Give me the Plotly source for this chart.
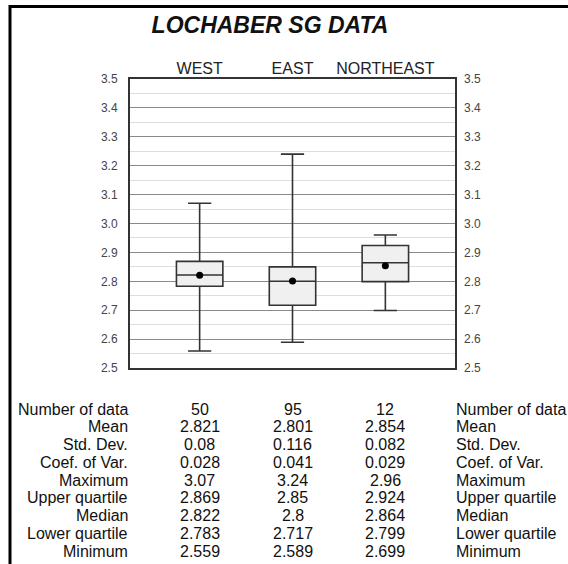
import plotly.graph_objects as go

categories = ["WEST", "EAST", "NORTHEAST"]
n_data = [50, 95, 12]
mean_v = [2.821, 2.801, 2.854]
std_v = [0.08, 0.116, 0.082]
cv_v = [0.028, 0.041, 0.029]
max_v = [3.07, 3.24, 2.96]
q3_v = [2.869, 2.85, 2.924]
median_v = [2.822, 2.8, 2.864]
q1_v = [2.783, 2.717, 2.799]
min_v = [2.559, 2.589, 2.699]

row_labels = ["Number of data", "Mean", "Std. Dev.", "Coef. of Var.", "Maximum",
              "Upper quartile", "Median", "Lower quartile", "Minimum"]
row_values = [n_data, mean_v, std_v, cv_v, max_v, q3_v, median_v, q1_v, min_v]

W, H = 568, 564
ML, MR, MT, MB = 130, 113, 79, 196
PW, PH = W - ML - MR, H - MT - MB

def px_x(px):
    return (px - ML) / PW

def px_y(py):
    return (H - MB - py) / PH

FONT = "Liberation Sans, Arial, sans-serif"

fig = go.Figure()
fig.add_trace(go.Box(
    x=categories, q1=q1_v, median=median_v, q3=q3_v,
    lowerfence=min_v, upperfence=max_v,
    width=0.5, whiskerwidth=0.5,
    fillcolor="#f0f0f0", line=dict(color="#333333", width=1.6),
    boxpoints=False, showlegend=False, hoverinfo="skip",
))
fig.add_trace(go.Scatter(
    x=categories, y=mean_v, mode="markers",
    marker=dict(color="black", size=7), showlegend=False, hoverinfo="skip",
))
fig.add_trace(go.Scatter(
    x=categories, y=mean_v, mode="markers", yaxis="y2",
    marker=dict(color="rgba(0,0,0,0)", size=1), showlegend=False, hoverinfo="skip",
))

annotations = []
for i, (lab, vals) in enumerate(zip(row_labels, row_values)):
    ypos = px_y(409 + i * 17.75)
    annotations.append(dict(text=lab, x=0, xref="paper", y=ypos, yref="paper",
                            xanchor="right", yanchor="middle", xshift=0, showarrow=False,
                            font=dict(size=16, color="#111", family=FONT)))
    annotations.append(dict(text=lab, x=1, xref="paper", y=ypos, yref="paper",
                            xanchor="left", yanchor="middle", xshift=-1, showarrow=False,
                            font=dict(size=16, color="#111", family=FONT)))
    for c, v in zip(categories, vals):
        annotations.append(dict(text=str(v), x=c, xref="x", y=ypos, yref="paper",
                                xanchor="center", yanchor="middle", showarrow=False,
                                font=dict(size=16, color="#111", family=FONT)))

shapes = [
    dict(type="line", xref="paper", yref="paper", x0=px_x(10), x1=px_x(600),
         y0=px_y(6.5), y1=px_y(6.5), line=dict(color="black", width=3)),
    dict(type="line", xref="paper", yref="paper", x0=px_x(10), x1=px_x(10),
         y0=px_y(5), y1=px_y(600), line=dict(color="black", width=3)),
]

yaxis_common = dict(range=[2.5, 3.5], dtick=0.1, tickformat=".1f",
                    tickfont=dict(size=12, color="#444", family=FONT),
                    ticks="", ticklabelstandoff=8, zeroline=False, fixedrange=True)

fig.update_layout(
    width=W, height=H,
    margin=dict(l=ML, r=MR, t=MT, b=MB, pad=0),
    paper_bgcolor="white", plot_bgcolor="white",
    title=dict(text="<b><i>LOCHABER SG DATA</i></b>", x=270 / W, xref="container",
               xanchor="center", y=1 - 25 / H, yref="container", yanchor="middle",
               font=dict(size=23, color="#111", family=FONT)),
    xaxis=dict(range=[-0.75, 2.75], side="top", showgrid=False, ticks="",
               ticklabelstandoff=-3,
               tickfont=dict(size=16, color="#222", family=FONT),
               showline=True, mirror=True, linecolor="#333", linewidth=2,
               zeroline=False, fixedrange=True),
    yaxis=dict(**yaxis_common, side="left", showgrid=True, gridcolor="#8a8a8a", gridwidth=1,
               minor=dict(dtick=0.05, showgrid=True, gridcolor="#dedede", gridwidth=1),
               showline=True, mirror=True, linecolor="#333", linewidth=2),
    yaxis2=dict(**yaxis_common, side="right", overlaying="y", showgrid=False,
                showline=False),
    annotations=annotations,
    shapes=shapes,
)

fig.write_html("out.html")
